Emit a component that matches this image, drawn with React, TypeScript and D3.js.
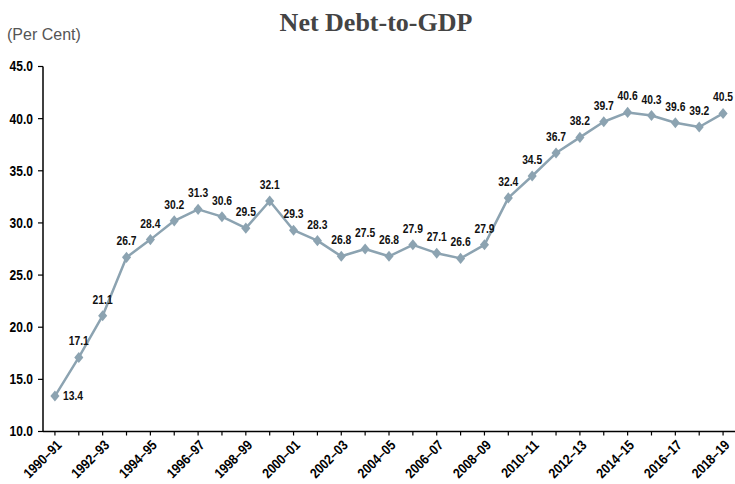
import React from "react";
import * as d3 from "d3";

const categories = [
  "1990–91","1991–92","1992–93","1993–94","1994–95","1995–96","1996–97","1997–98","1998–99","1999–00",
  "2000–01","2001–02","2002–03","2003–04","2004–05","2005–06","2006–07","2007–08","2008–09","2009–10",
  "2010–11","2011–12","2012–13","2013–14","2014–15","2015–16","2016–17","2017–18","2018–19",
];
const values = [
  13.4, 17.1, 21.1, 26.7, 28.4, 30.2, 31.3, 30.6, 29.5, 32.1,
  29.3, 28.3, 26.8, 27.5, 26.8, 27.9, 27.1, 26.6, 27.9, 32.4,
  34.5, 36.7, 38.2, 39.7, 40.6, 40.3, 39.6, 39.2, 40.5,
];
const yTicks = [10, 15, 20, 25, 30, 35, 40, 45];

const W = 735, H = 484;
const LEFT = 43, RIGHT = 735, TOP = 66.5, BOTTOM = 431.5;
const SANS = "'Liberation Sans', Arial, sans-serif";
const LINE = "#8CA3B1";
const NX = 0.86;

const diamondType = {
  draw(ctx: any, size: number) {
    const h = Math.sqrt(size) * 0.62;
    const w = h * 0.82;
    ctx.moveTo(0, -h);
    ctx.lineTo(w, 0);
    ctx.lineTo(0, h);
    ctx.lineTo(-w, 0);
    ctx.closePath();
  },
};

export default function App() {
  const x = d3.scaleBand<string>().domain(categories).range([LEFT, RIGHT]);
  const cx = (c: string) => (x(c) as number) + x.bandwidth() / 2;
  const y = d3.scaleLinear().domain([10, 45]).range([BOTTOM, TOP]);
  const line = d3.line<number>().x((_, i) => cx(categories[i])).y((d) => y(d));
  const diamond = d3.symbol().type(diamondType as any).size(80)();

  return (
    <svg width={W} height={H} style={{ position: "absolute", left: 0, top: 0, background: "#fff" }}>
      <text x={376} y={31} textAnchor="middle" fontFamily="'Liberation Serif', 'Times New Roman', serif"
        fontWeight="bold" fontSize={26} fill="#444">Net Debt-to-GDP</text>
      <text x={7} y={40} fontFamily={SANS} fontSize={16} fill="#555">(Per Cent)</text>

      {/* y axis */}
      <line x1={LEFT} x2={LEFT} y1={TOP} y2={BOTTOM} stroke="#000" strokeWidth={1.5} />
      {yTicks.map((t) => (
        <g key={t}>
          <line x1={LEFT - 5} x2={LEFT} y1={y(t)} y2={y(t)} stroke="#000" strokeWidth={1.2} />
          <g transform={`translate(${LEFT - 10},${y(t)}) scale(${NX},1)`}>
            <text dy="0.35em" textAnchor="end" fontFamily={SANS}
              fontWeight="bold" fontSize={14} fill="#000">{t.toFixed(1)}</text>
          </g>
        </g>
      ))}

      {/* x axis */}
      <line x1={LEFT} x2={RIGHT} y1={BOTTOM} y2={BOTTOM} stroke="#000" strokeWidth={1.5} />
      {categories.map((c, i) => (
        <g key={c}>
          <line x1={cx(c)} x2={cx(c)} y1={BOTTOM} y2={BOTTOM + 4} stroke="#000" strokeWidth={1.2} />
          {i % 2 === 0 && (
            <text transform={`translate(${cx(c) + 4},${BOTTOM + 11}) rotate(-45) scale(${NX},1)`} textAnchor="end"
              dy="0.35em" fontFamily={SANS} fontWeight="bold" fontSize={14} fill="#000">{c}</text>
          )}
        </g>
      ))}

      <path d={line(values) || ""} fill="none" stroke={LINE} strokeWidth={2.5} strokeLinejoin="round" />
      {values.map((v, i) => (
        <path key={i} d={diamond || ""} transform={`translate(${cx(categories[i])},${y(v)})`} fill={LINE} />
      ))}
      {values.map((v, i) => (
        i === 0 ? (
          <text key={i} transform={`translate(${cx(categories[i]) + 8},${y(v)}) scale(${NX},1)`} dy="0.35em"
            fontFamily={SANS} fontWeight="bold" fontSize={12} fill="#111">{v.toFixed(1)}</text>
        ) : (
          <text key={i} transform={`translate(${cx(categories[i])},${y(v) - 12}) scale(${NX},1)`}
            textAnchor="middle" fontFamily={SANS} fontWeight="bold" fontSize={12} fill="#111">{v.toFixed(1)}</text>
        )
      ))}
    </svg>
  );
}
